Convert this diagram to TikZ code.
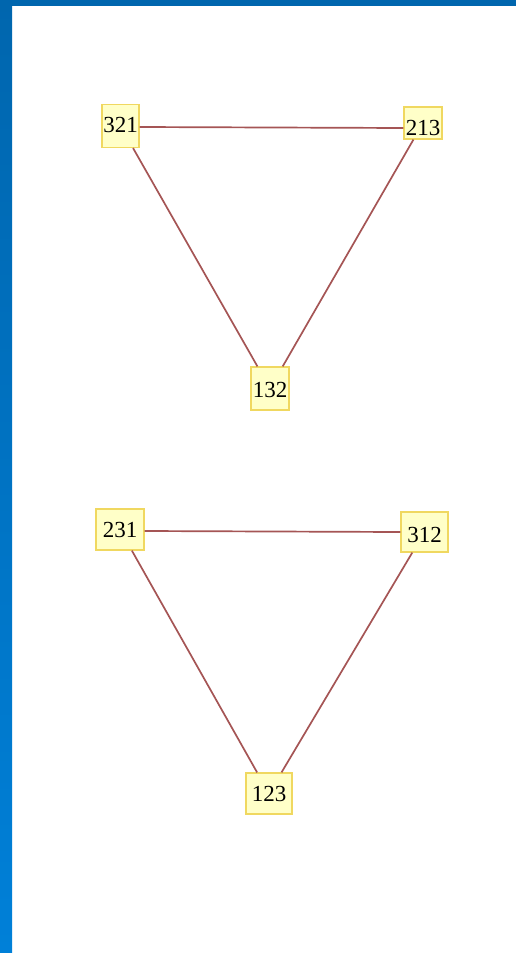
\documentclass[tikz,border=0pt]{standalone}
\usepackage{fontspec}
\setmainfont{Liberation Serif}
\definecolor{barblue}{HTML}{0066AE}
\definecolor{barblue2}{HTML}{0080D8}
\definecolor{boxfill}{HTML}{FFFFC8}
\definecolor{boxline}{HTML}{F0D860}
\definecolor{edgecol}{HTML}{A55555}
\begin{document}
\begin{tikzpicture}[x=1pt,y=-1pt,
  perm/.style={draw=boxline,fill=boxfill,line width=1.2pt,inner sep=0pt,
    text height=15pt,text depth=0pt,
    font=\fontsize{23}{23}\selectfont},
  link/.style={draw=edgecol,line width=1.7pt}]
\useasboundingbox (0,0) rectangle (516,953);
\fill[white] (0,0) rectangle (516,953);
\shade[top color=barblue,bottom color=barblue2] (0,0) rectangle (12,953);
\fill[barblue] (0,0) rectangle (516,6);
\node[perm,minimum width=37pt,minimum height=43pt,text height=13pt] (n321) at (120.5,126) {321};
\node[perm,minimum width=38pt,minimum height=32pt,text height=25pt] (n213) at (423,123) {213};
\node[perm,minimum width=38pt,minimum height=43pt,text height=18pt] (n132) at (270,388.5) {132};
\node[perm,minimum width=48pt,minimum height=41pt] (n231) at (120,529.5) {231};
\node[perm,minimum width=47pt,minimum height=40pt,text height=21pt] (n312) at (424.5,532) {312};
\node[perm,minimum width=46pt,minimum height=41pt] (n123) at (269,793.5) {123};
\draw[link] ([yshift=-1pt]n321.east) -- ([yshift=-5pt]n213.west);
\draw[link] (n321) -- (n132);
\draw[link] (n213) -- (n132);
\draw[link] ([yshift=-1.5pt]n231.east) -- (n312.west);
\draw[link] (n231) -- (n123);
\draw[link] (n312) -- (n123);
\end{tikzpicture}
\end{document}
